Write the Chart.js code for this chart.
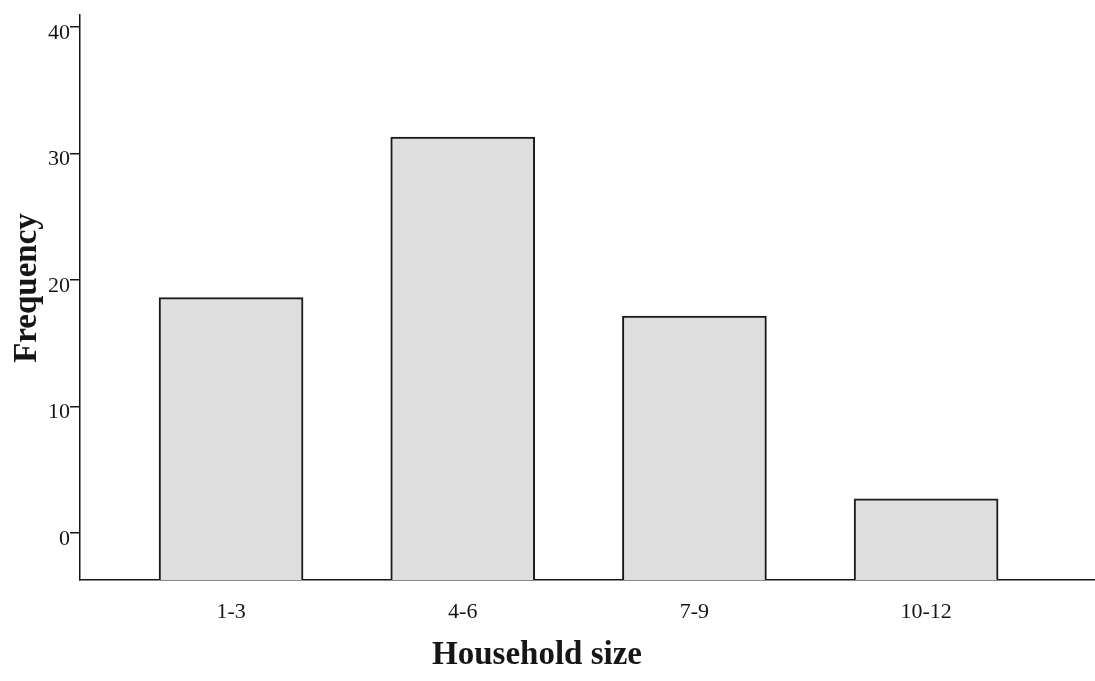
<!DOCTYPE html>
<html>
<head>
<meta charset="utf-8">
<title>Household size</title>
<script src="https://cdn.jsdelivr.net/npm/chart.js@4.4.1/dist/chart.umd.min.js"></script>
<style>
    html, body { margin: 0; padding: 0; background: #ffffff; }
    #wrap { width: 1095px; height: 681px; position: relative; }
</style>
</head>
<body>
<div id="wrap"><canvas id="sizeChart"></canvas></div>
<script>
// -------- Data --------
const categories = ["1-3", "4-6", "7-9", "10-12"];
const positions = [1, 2, 3, 4];
const frequencies = [18.6, 31.3, 17.15, 2.7];
const yTicks = [0, 10, 20, 30, 40];

const xTitle = "Household size";
const yTitle = "Frequency";

// axis range (0 tick sits above the x axis line)
const yMin = -3.72;
const yMax = 40.95;
const xMin = 0.348;
const xMax = 4.729;

const serif = "'Liberation Serif', 'Times New Roman', serif";
const ink = "#161616";


// -------- Axis titles --------
const axisTitles = {
    id: "axisTitles",
    afterDraw(chart) {
        const ctx = chart.ctx;
        ctx.save();
        ctx.fillStyle = ink;
        ctx.font = "bold 33px " + serif;
        ctx.textAlign = "center";
        ctx.textBaseline = "middle";

        ctx.fillText(xTitle, 537, 655);

        ctx.translate(27, 288);
        ctx.rotate(-Math.PI / 2);
        ctx.fillText(yTitle, 0, 0);
        ctx.restore();
    }
};


// -------- Chart --------
const ctx = document.getElementById("sizeChart").getContext("2d");

new Chart(ctx, {
    type: "bar",
    data: {
        datasets: [{
            label: "Frequency",
            data: positions.map((p, i) => ({ x: p, y: frequencies[i] })),
            backgroundColor: "#dedede",
            borderColor: "#1a1a1a",
            borderWidth: 2,
            barThickness: 144,
            base: yMin
        }]
    },
    options: {
        responsive: true,
        maintainAspectRatio: false,
        animation: false,
        layout: { padding: { top: 15, right: 0, left: 0, bottom: 0 } },
        plugins: {
            legend: { display: false },
            tooltip: { enabled: false }
        },
        scales: {
            x: {
                type: "linear",
                offset: false,
                min: xMin,
                max: xMax,
                afterBuildTicks: (scale) => {
                    scale.ticks = positions.map(v => ({ value: v }));
                },
                afterFit: (scale) => { scale.height = 101; },
                grid: { display: false, drawTicks: false, offset: false },
                border: { display: true, color: ink, width: 1.5 },
                ticks: {
                    padding: 19,
                    color: ink,
                    font: { family: serif, size: 22 },
                    maxRotation: 0,
                    autoSkip: false,
                    callback: (value) => categories[positions.indexOf(value)]
                }
            },
            y: {
                min: yMin,
                max: yMax,
                afterBuildTicks: (scale) => {
                    scale.ticks = yTicks.map(v => ({ value: v }));
                },
                afterFit: (scale) => { scale.width = 80; },
                grid: {
                    drawOnChartArea: false,
                    drawTicks: true,
                    tickLength: 10,
                    color: ink,
                    lineWidth: 1.5
                },
                border: { display: true, color: ink, width: 1.5 },
                ticks: {
                    padding: 0,
                    labelOffset: 6,
                    color: ink,
                    font: { family: serif, size: 22 }
                }
            }
        }
    },
    plugins: [axisTitles]
});
</script>
</body>
</html>
